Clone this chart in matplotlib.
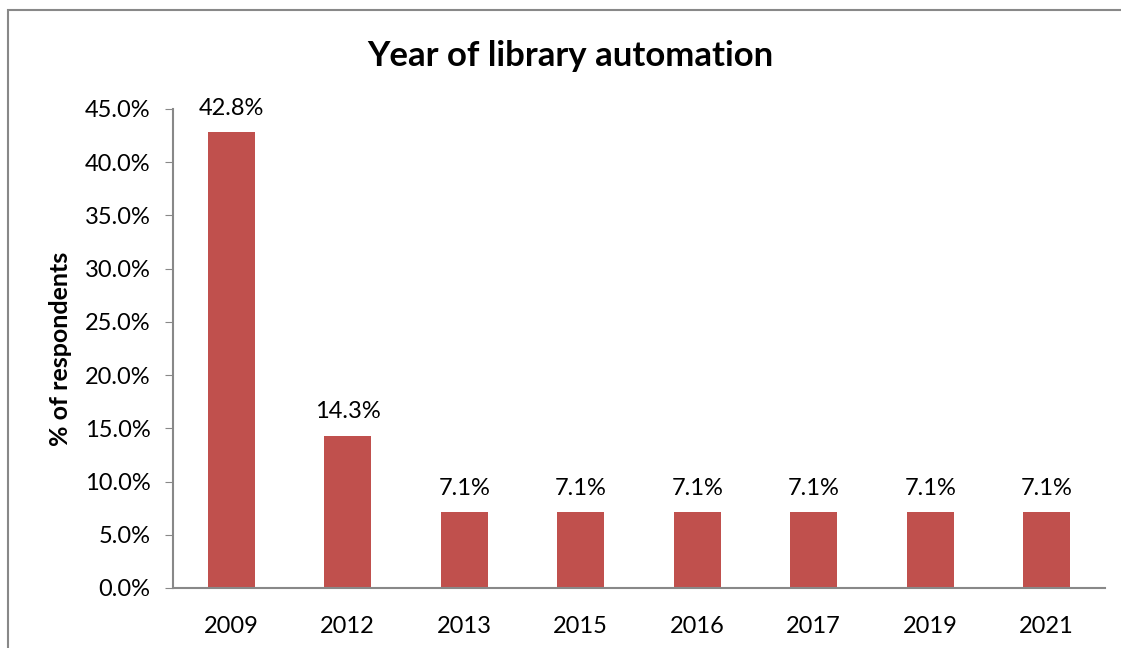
import numpy as np
import matplotlib.pyplot as plt
from matplotlib.patches import Rectangle

plt.rcParams['font.family'] = ['Lato', 'DejaVu Sans']

years = ['2009', '2012', '2013', '2015', '2016', '2017', '2019', '2021']
pct = [42.8, 14.3, 7.1, 7.1, 7.1, 7.1, 7.1, 7.1]
yticks = [0, 5, 10, 15, 20, 25, 30, 35, 40, 45]

fig = plt.figure(figsize=(11.21, 6.48), dpi=100)
ax = fig.add_axes([0.1543, 0.0926, 0.8314, 0.7392])

x = np.arange(len(years))
bars = ax.bar(x, pct, width=0.4, color='#C0504D', zorder=2)
for xi, v in zip(x, pct):
    ax.annotate('%.1f%%' % v, (xi, v), xytext=(0, 10), textcoords='offset points',
                ha='center', va='bottom', fontsize=17)

ax.set_xlim(-0.5, len(years) - 0.5)
ax.set_ylim(0, 45)
ax.set_yticks(yticks)
ax.set_yticklabels(['%.1f%%' % t for t in yticks], fontsize=17)
ax.set_xticks(x)
ax.set_xticklabels(years, fontsize=17)
ax.tick_params(axis='x', length=0, pad=20)
ax.tick_params(axis='y', length=6, color='#888888', pad=10)

for s in ['top', 'right']:
    ax.spines[s].set_visible(False)
for s in ['left', 'bottom']:
    ax.spines[s].set_color('#888888')
    ax.spines[s].set_linewidth(1.5)

ax.set_ylabel('% of respondents', fontsize=18, fontweight='bold')
ax.yaxis.set_label_coords(-0.108, 0.5)
fig.text(0.509, 0.914, 'Year of library automation', ha='center', va='center',
         fontsize=25, fontweight='bold')

# outer chart frame
fig.patches.append(Rectangle((8 / 1121, -0.1), 1.2, 1 - 10 / 648 + 0.1, transform=fig.transFigure,
                             fill=False, edgecolor='#888888', linewidth=1.5))

fig.savefig('out.png', dpi=100)
